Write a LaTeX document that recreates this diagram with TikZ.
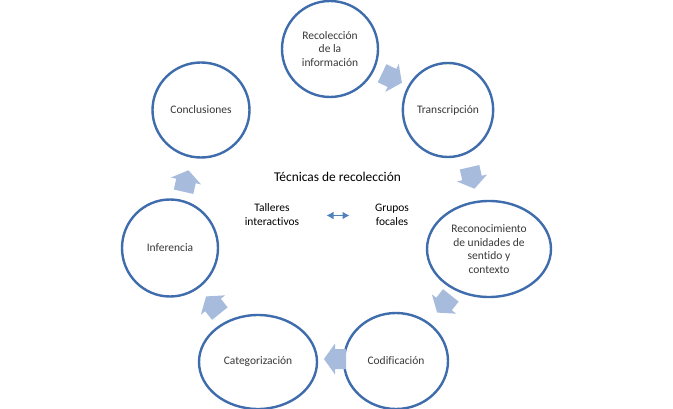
\documentclass[tikz,border=0pt]{standalone}
\usepackage{fontspec}
\setmainfont{Carlito}[Ligatures=NoCommon]
\usetikzlibrary{shapes.geometric,arrows.meta}
\definecolor{ringblue}{RGB}{62,108,172}
\definecolor{arrowfill}{RGB}{167,188,221}
\definecolor{dblblue}{RGB}{79,129,189}
\definecolor{labelgray}{RGB}{56,56,56}
\tikzset{
  stage/.style={ellipse, draw=ringblue, line width=2.4pt, fill=white, inner sep=1pt,
    align=center, text=labelgray, font=\fontsize{11.5}{13.5}\selectfont},
  centertext/.style={align=center, text=black, font=\fontsize{11.5}{14}\selectfont},
  blockarrow/.pic={\fill[arrowfill] (-11,-10) -- (0,-10) -- (0,-15.5) -- (11,0) -- (0,15.5) -- (0,10) -- (-11,10) -- cycle;}
}
\begin{document}
\begin{tikzpicture}[x=1pt,y=-1pt]
\useasboundingbox (0,0) rectangle (673,409);
\node[stage, minimum width=96pt, minimum height=96pt] (n1) at (330,49) {Recolección\\de la\\información};
\node[stage, minimum width=90pt, minimum height=94pt] (n2) at (448,110) {Transcripción};
\node[stage, minimum width=124pt, minimum height=96pt] (n3) at (489,249) {Reconocimiento\\de unidades de\\sentido y\\contexto};
\node[stage, minimum width=104pt, minimum height=96pt] (n4) at (396,361) {Codificación};
\node[stage, minimum width=118pt, minimum height=94pt] (n5) at (258,362) {Categorización};
\node[stage, minimum width=96pt, minimum height=97pt] (n6) at (170,248) {Inferencia};
\node[stage, minimum width=97pt, minimum height=95pt] (n7) at (201,110) {Conclusiones};
\pic[rotate=-25.7] at (392,78) {blockarrow};
\pic[rotate=-77.1] at (472,178) {blockarrow};
\pic[rotate=-128.6] at (444,304) {blockarrow};
\pic[rotate=180] at (335,359) {blockarrow};
\pic[rotate=128.6] at (213,305) {blockarrow};
\pic[rotate=77.1] at (186,181) {blockarrow};
\node[centertext, font=\fontsize{13.4}{16}\selectfont] (title) at (337.5,177) {Técnicas de recolección};
\node[centertext] (taller) at (272,215) {Talleres\\interactivos};
\node[centertext] (grupos) at (392,215) {Grupos\\focales};
\coordinate (dl) at (326.5,215.5);
\coordinate (dr) at (349.5,215.5);
\draw[dblblue, line width=1.6pt, {Latex[length=7pt,width=8pt]}-{Latex[length=7pt,width=8pt]}] (dl) -- (dr);
\end{tikzpicture}
\end{document}
